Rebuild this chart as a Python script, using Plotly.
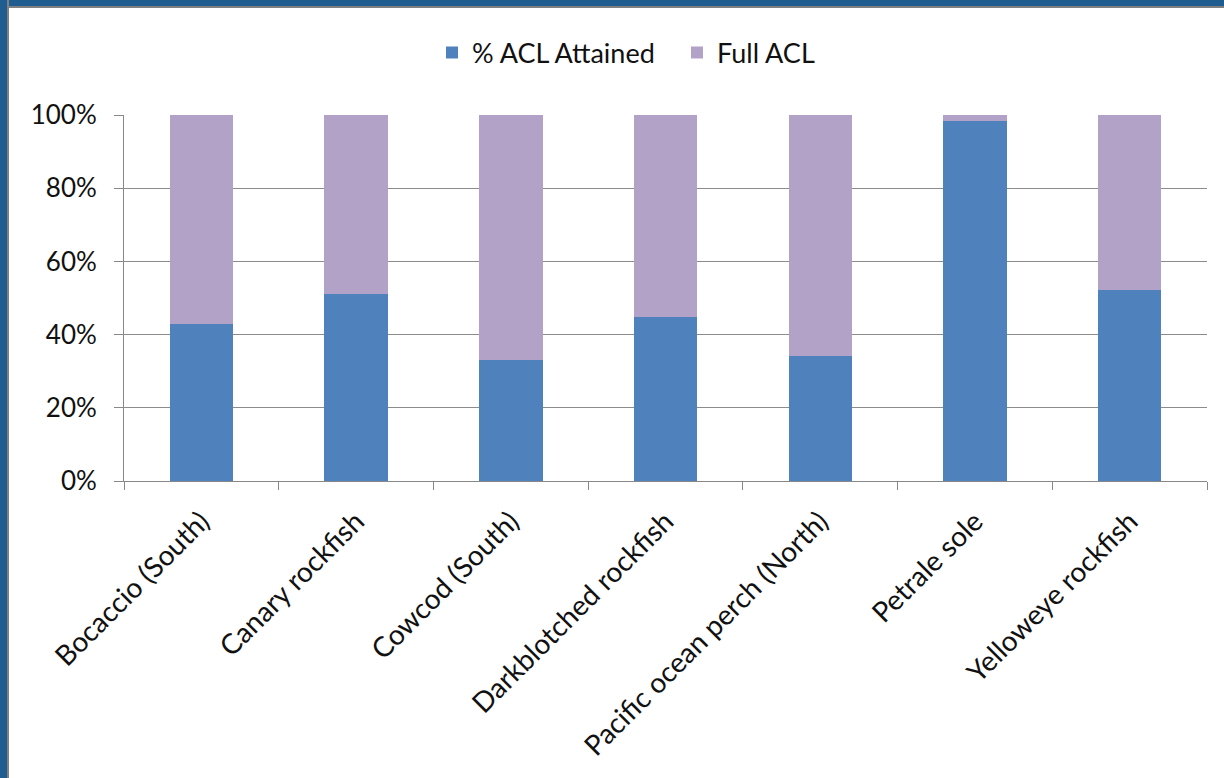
import plotly.graph_objects as go

categories = ["Bocaccio (South)", "Canary rockfish", "Cowcod (South)", "Darkblotched rockfish",
              "Pacific ocean perch (North)", "Petrale sole", "Yelloweye rockfish"]
attained = [42.9, 51.1, 33.1, 44.8, 34.2, 98.4, 52.2]
full_acl = [100 - v for v in attained]

W, H = 1224, 778
L, R, T, B = 124, 17, 115, 297
pw, ph = W - L - R, H - T - B

def px(x):
    return (x - L) / pw

def py(y):
    return (H - B - y) / ph

fig = go.Figure()
fig.add_trace(go.Bar(x=categories, y=attained, name="% ACL Attained", marker_color="#4F81BD",
                     marker_line_width=0))
fig.add_trace(go.Bar(x=categories, y=full_acl, name="Full ACL", marker_color="#B3A2C7",
                     marker_line_width=0))

font = "Lato, 'Open Sans', sans-serif"
fig.update_layout(
    width=W, height=H, barmode="stack", bargap=0.59,
    margin=dict(l=L, r=R, t=T, b=B, autoexpand=False),
    paper_bgcolor="white", plot_bgcolor="white",
    font=dict(family=font, size=27, color="#111111"),
    legend=dict(orientation="h", x=px(432), xanchor="left", y=py(53), yanchor="middle",
                font=dict(size=27), traceorder="normal", itemwidth=30,
                entrywidth=200, entrywidthmode="pixels"),
    showlegend=True,
    xaxis=dict(tickangle=-45, ticks="outside", tickson="boundaries", ticklen=8,
               tickcolor="#888888", showline=True, linecolor="#888888", linewidth=1,
               showgrid=False, tickfont=dict(size=28), ticklabelstandoff=12),
    yaxis=dict(range=[0, 100], dtick=20, ticksuffix="%", ticks="outside", ticklen=9,
               tickcolor="#888888", showline=True, linecolor="#888888", linewidth=1,
               showgrid=True, gridcolor="#8c8c8c", gridwidth=1, zeroline=False,
               tickfont=dict(size=26), ticklabelstandoff=12),
)

# frame border (dark blue with gray inner edge)
shapes = [
    dict(type="rect", xref="paper", yref="paper", x0=px(0), x1=px(W), y0=py(0), y1=py(8),
         fillcolor="#808080", line_width=0, layer="above"),
    dict(type="rect", xref="paper", yref="paper", x0=px(0), x1=px(W), y0=py(0), y1=py(6),
         fillcolor="#1F5C8F", line_width=0, layer="above"),
    dict(type="rect", xref="paper", yref="paper", x0=px(0), x1=px(9), y0=py(0), y1=py(H),
         fillcolor="#808080", line_width=0, layer="above"),
    dict(type="rect", xref="paper", yref="paper", x0=px(0), x1=px(7), y0=py(0), y1=py(H),
         fillcolor="#1F5C8F", line_width=0, layer="above"),
]
fig.update_layout(shapes=shapes)

fig.write_html("out.html")
